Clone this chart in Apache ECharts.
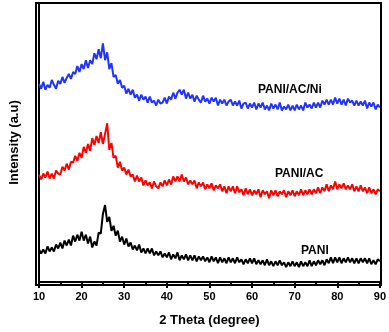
<!DOCTYPE html>
<html>
<head>
<meta charset="utf-8">
<script src="https://cdn.jsdelivr.net/npm/echarts@6/dist/echarts.min.js"></script>
<style>
html, body { margin: 0; padding: 0; background: #fff; }
#chartsObj_XRD { width: 389px; height: 332px; }
</style>
</head>
<body>
<div id="chartsObj_XRD"></div>
<script>
// 2 theta from 10 to 90, one point every 0.5 degree
var thetaStart = 10;
var thetaStep = 0.5;
var xTicks = [10, 20, 30, 40, 50, 60, 70, 80, 90];
var seriesNames = ['PANI/AC/Ni', 'PANI/AC', 'PANI'];

var valuesNi = [
    201,196,203,195,200,197,205,200,196,204,
    201,208,202,207,211,206,213,211,219,213,
    221,216,225,217,225,221,232,226,236,227,
    242,225,233,216,222,208,210,201,205,197,
    199,191,196,190,195,187,190,184,190,185,
    188,182,188,182,184,179,185,181,182,187,
    181,188,185,192,186,192,195,190,195,186,
    192,186,190,183,189,185,182,189,183,186,
    181,187,183,187,179,185,181,185,179,183,
    185,179,183,179,184,176,181,182,176,181,
    177,182,175,181,177,182,175,179,174,181,
    176,180,175,182,174,178,175,180,174,179,
    174,180,175,179,174,182,177,180,176,182,
    177,182,177,184,180,185,180,185,180,187,
    181,186,180,185,179,186,182,184,179,184,
    179,183,179,184,176,182,178,182,175,180,
    177
];
var valuesAC = [
    109,104,110,106,112,105,110,105,113,110,
    109,117,113,120,114,122,121,128,123,131,
    126,137,131,140,133,146,139,148,141,152,
    140,150,161,134,141,126,128,116,122,113,
    116,109,114,107,109,102,108,102,106,98,
    103,98,101,95,102,97,95,101,97,103,
    98,104,99,107,102,107,102,109,102,106,
    99,103,99,103,95,101,97,101,94,99,
    95,100,93,98,95,99,92,97,90,97,
    92,97,90,97,91,94,88,95,89,94,
    88,93,89,94,86,93,89,92,85,93,
    88,93,87,92,89,93,86,92,88,93,
    87,92,88,94,88,93,89,94,89,94,
    90,96,90,96,92,99,92,98,94,102,
    94,99,95,100,94,98,94,99,92,97,
    92,98,92,96,90,96,90,94,89,94,
    92
];
var valuesPANI = [
    33,29,33,29,36,31,35,31,38,34,
    40,34,42,37,43,37,47,41,48,42,
    51,42,48,39,46,35,41,37,50,49,
    69,78,61,66,52,57,47,52,41,46,
    38,44,36,40,33,37,32,38,30,34,
    29,34,29,34,27,31,27,31,25,29,
    25,30,23,28,24,30,22,27,23,28,
    22,27,22,27,21,26,22,26,21,25,
    20,26,21,25,19,25,20,24,19,25,
    20,24,19,25,20,23,18,23,19,24,
    19,24,18,22,18,22,17,23,17,21,
    16,21,17,22,17,20,15,20,16,21,
    16,20,15,21,16,20,16,22,16,21,
    17,22,18,22,17,23,19,25,19,25,
    20,25,19,24,20,25,20,24,19,24,
    19,24,20,24,19,24,18,22,18,23,
    21
];

function toPairs(vals){
    return vals.map(function(v, i){ return [thetaStart + i * thetaStep, v]; });
}

var boldFont = '"Liberation Sans", Arial, sans-serif';
var chartOption = {
    animation: false,
    grid: { left: 36, right: 8, top: 3, bottom: 47 },
    xAxis: {
        type: 'value',
        min: 10,
        max: 90,
        interval: 10,
        name: '2 Theta (degree)',
        nameLocation: 'middle',
        nameGap: 32,
        nameTextStyle: { fontFamily: boldFont, fontWeight: 'bold', fontSize: 13, color: '#000' },
        axisLine: { lineStyle: { color: '#000', width: 2 } },
        axisTick: { length: 6, lineStyle: { color: '#000', width: 2 } },
        minorTick: { show: true, splitNumber: 2, length: 4, lineStyle: { color: '#000', width: 2 } },
        axisLabel: {
            margin: 9,
            fontFamily: boldFont, fontWeight: 'bold', fontSize: 11, color: '#000',
            customValues: xTicks
        },
        splitLine: { show: false }
    },
    yAxis: {
        type: 'value',
        min: 0,
        max: 283,
        name: 'Intensity (a.u)',
        nameLocation: 'middle',
        nameGap: 18,
        nameTextStyle: { fontFamily: boldFont, fontWeight: 'bold', fontSize: 13, color: '#000' },
        axisLine: { lineStyle: { color: '#000', width: 2 } },
        axisTick: { show: false },
        axisLabel: { show: false },
        splitLine: { show: false }
    },
    graphic: [
        { type: 'rect', shape: { x: 36, y: 3, width: 345, height: 282 }, style: { fill: 'none', stroke: '#000', lineWidth: 2 }, z: 10 },
        { type: 'text', left: 258, top: 84, style: { text: seriesNames[0], font: 'bold 12px ' + boldFont, fill: '#000' } },
        { type: 'text', left: 275, top: 168, style: { text: seriesNames[1], font: 'bold 12px ' + boldFont, fill: '#000' } },
        { type: 'text', left: 301, top: 245, style: { text: seriesNames[2], font: 'bold 12px ' + boldFont, fill: '#000' } }
    ],
    series: [
        { name: seriesNames[0], type: 'line', showSymbol: false, data: toPairs(valuesNi), lineStyle: { color: '#2233ff', width: 2 } },
        { name: seriesNames[1], type: 'line', showSymbol: false, data: toPairs(valuesAC), lineStyle: { color: '#ff0000', width: 2 } },
        { name: seriesNames[2], type: 'line', showSymbol: false, data: toPairs(valuesPANI), lineStyle: { color: '#000000', width: 2 } }
    ]
};

var xrdChart = echarts.init(document.getElementById('chartsObj_XRD'));
xrdChart.setOption(chartOption);
</script>
</body>
</html>
